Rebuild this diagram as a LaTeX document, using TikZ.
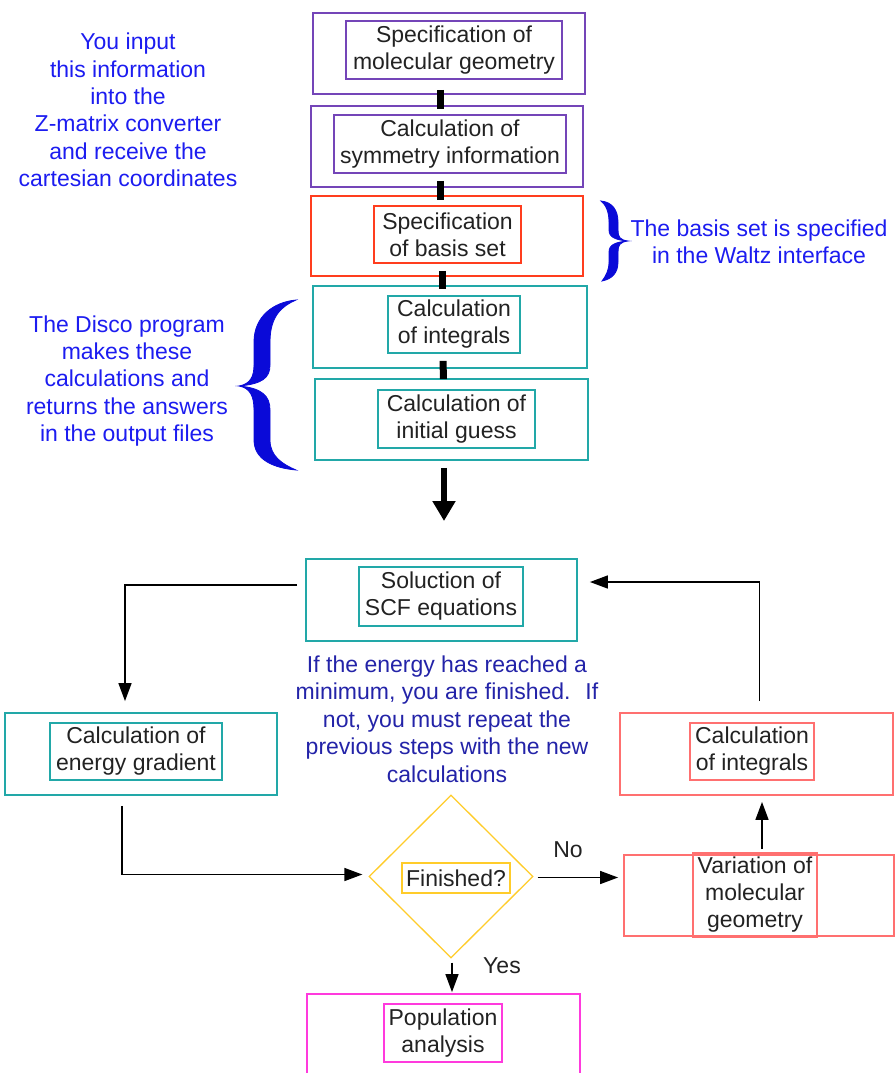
\documentclass[tikz,border=0pt]{standalone}
\usepackage{fontspec}
\setmainfont{Liberation Sans}
\usetikzlibrary{shapes.geometric,arrows.meta,calc}
\definecolor{cpurple}{HTML}{7445B8}
\definecolor{cred}{HTML}{FF3D1E}
\definecolor{cteal}{HTML}{22A8A8}
\definecolor{csalmon}{HTML}{FF7070}
\definecolor{cmagenta}{HTML}{FF3ADD}
\definecolor{cyellow}{HTML}{FFCC2A}
\definecolor{cblue}{HTML}{1C1CF0}
\definecolor{cbrace}{HTML}{0A0AD8}
\definecolor{cdblue}{HTML}{2323A8}
\definecolor{ctext}{HTML}{222222}
\begin{document}
\begin{tikzpicture}[x=1pt,y=-1pt,
  obox/.style={draw, line width=1.8pt, inner sep=0pt},
  ibox/.style={draw, line width=1.6pt, inner sep=0pt, align=center,
    font=\fontsize{23}{27}\selectfont, text=ctext},
  note/.style={align=center, font=\fontsize{23}{27.4}\selectfont},
  lbl/.style={font=\fontsize{23}{27}\selectfont, text=ctext},
  arr/.style={line width=1.5pt, -{Triangle[length=18pt,width=13pt]}},
  bigarr/.style={line width=6.5pt, -{Triangle[length=20pt,width=22pt]}},
  bar/.style={line width=7pt},
  bracefill/.style={fill=cbrace, draw=cbrace, line width=0.8pt}]
\useasboundingbox (0,0) rectangle (895,1073);
\clip (0,0) rectangle (895,1073);

% ---------- top chain ----------
\node[obox, draw=cpurple, minimum width=272pt, minimum height=81pt] (b1o) at (449,53.5) {};
\node[ibox, draw=cpurple, minimum width=216pt, minimum height=58pt] (b1i) at (454,50) {Specification of\\molecular geometry};
\node[obox, draw=cpurple, minimum width=272pt, minimum height=81pt] (b2o) at (447,146.5) {};
\node[ibox, draw=cpurple, minimum width=232pt, minimum height=58pt] (b2i) at (450,144) {Calculation of\\symmetry information};
\node[obox, draw=cred, minimum width=272pt, minimum height=80pt] (b3o) at (447,236) {};
\node[ibox, draw=cred, minimum width=147pt, minimum height=57pt] (b3i) at (447.5,234.5) {Specification\\of basis set};
\node[obox, draw=cteal, minimum width=274pt, minimum height=82pt] (b4o) at (450,327) {};
\node[ibox, draw=cteal, minimum width=132pt, minimum height=57pt] (b4i) at (454,324.5) {Calculation\\of integrals};
\node[obox, draw=cteal, minimum width=273pt, minimum height=81pt] (b5o) at (451.5,419.5) {};
\node[ibox, draw=cteal, minimum width=157pt, minimum height=58pt] (b5i) at (456.5,419) {Calculation of\\initial guess};

\draw[bar] ([xshift=-9pt,yshift=5pt]b1o.south) -- ([xshift=-7pt,yshift=-4pt]b2o.north);
\draw[bar] ([xshift=-7pt,yshift=7pt]b2o.south) -- ([xshift=-7pt,yshift=-5pt]b3o.north);
\draw[bar] ([xshift=-5pt,yshift=6pt]b3o.south) -- ([xshift=-8pt,yshift=-4pt]b4o.north);
\draw[bar] ([xshift=-7pt,yshift=8pt]b4o.south) -- ([xshift=-8pt,yshift=-1pt]b5o.north);

\coordinate (bigtip) at (444,521);
\draw[bigarr, shorten <=7pt] (bigtip |- b5o.south) -- (bigtip);

% ---------- notes and braces ----------
\node[note, text=cblue] (n1) at (128,110) {You input\\this information\\into the\\Z-matrix converter\\and receive the\\cartesian coordinates};
\node[note, text=cblue] (n2) at (127,381) {The Disco program\\makes these\\calculations and\\returns the answers\\in the output files};
\node[note, text=cblue, font=\fontsize{23}{27}\selectfont] (n3) at (759,242) {The basis set is specified\\in the Waltz interface};

\path[bracefill] (296,300) .. controls (274,302) and (254,316) .. (254,342) -- (254,365)
  .. controls (254,377) and (250,384) .. (239,386)
  .. controls (250,388) and (254,396) .. (254,410) -- (254,440)
  .. controls (254,460) and (274,468) .. (296,470)
  .. controls (282,464) and (270,456) .. (270,440) -- (270,410)
  .. controls (270,396) and (262,388) .. (239,386)
  .. controls (262,384) and (270,378) .. (270,365) -- (270,342)
  .. controls (270,316) and (282,306) .. (296,300) -- cycle;

\path[bracefill] (601,201) .. controls (612,202) and (618,210) .. (618,222) -- (618,230)
  .. controls (618,237) and (620,240) .. (628,241)
  .. controls (620,242) and (618,245) .. (618,252) -- (618,262)
  .. controls (618,273) and (612,279) .. (602,281)
  .. controls (606,276) and (609,270) .. (609,262) -- (609,252)
  .. controls (609,245) and (615,242) .. (628,241)
  .. controls (615,240) and (609,237) .. (609,230) -- (609,222)
  .. controls (609,212) and (606,205) .. (601,201) -- cycle;

% ---------- loop ----------
\node[obox, draw=cteal, minimum width=271pt, minimum height=82pt] (scfo) at (441.5,600) {};
\node[ibox, draw=cteal, minimum width=164pt, minimum height=59pt] (scfi) at (441,596.5) {Soluction of\\SCF equations};
\node[obox, draw=cteal, minimum width=272pt, minimum height=82pt] (ego) at (141,754) {};
\node[ibox, draw=cteal, minimum width=172pt, minimum height=57pt] (egi) at (136,751.5) {Calculation of\\energy gradient};
\node[obox, draw=csalmon, minimum width=273pt, minimum height=82pt] (cio) at (756.5,754) {};
\node[ibox, draw=csalmon, minimum width=124pt, minimum height=57pt] (cii) at (752,751.5) {Calculation\\of integrals};
\node[obox, draw=csalmon, minimum width=270pt, minimum height=81pt] (varo) at (759,895.5) {};
\node[ibox, draw=csalmon, minimum width=124pt, minimum height=84pt] (vari) at (755,895) {Variation of\\molecular\\geometry};
\node[diamond, draw=cyellow, line width=1.3pt, inner sep=0pt, minimum width=164pt, minimum height=163pt] (dia) at (451,876.5) {};
\node[ibox, draw=cyellow, minimum width=108pt, minimum height=30pt] (fin) at (456,878) {Finished?};
\node[obox, draw=cmagenta, minimum width=273pt, minimum height=81pt] (popo) at (443.5,1034.5) {};
\node[ibox, draw=cmagenta, minimum width=118pt, minimum height=58pt] (popi) at (443,1033) {Population\\analysis};

\node[note, text=cdblue] (n4) at (447,719) {If the energy has reached a\\minimum, you are finished.~ If\\not, you must repeat the\\previous steps with the new\\calculations};

\draw[arr] ([xshift=-8pt,yshift=15pt]scfo.west) -| ([xshift=-16pt,yshift=11pt]ego.north);
\draw[arr, shorten <=11pt] ([xshift=3pt]cio.north) |- ([xshift=12pt,yshift=18pt]scfo.east);
\draw[arr, shorten <=10pt] ([xshift=-19pt]ego.south) |- ([xshift=-6pt,yshift=2pt]dia.west);
\draw[arr, shorten <=4pt, shorten >=5pt] ([yshift=-1pt]dia.east) -- ([yshift=-1pt]dia.east -| varo.west);
\draw[arr, shorten <=5pt, shorten >=6pt] ([xshift=3pt]varo.north) -- ([xshift=3pt]varo.north |- cio.south);
\draw[arr, shorten <=4pt, shorten >=1pt] ([xshift=1pt]dia.south) -- ([xshift=1pt]dia.south |- popo.north);

\node[lbl] (no) at (568,850) {No};
\node[lbl] (yes) at (502,966) {Yes};
\end{tikzpicture}
\end{document}
